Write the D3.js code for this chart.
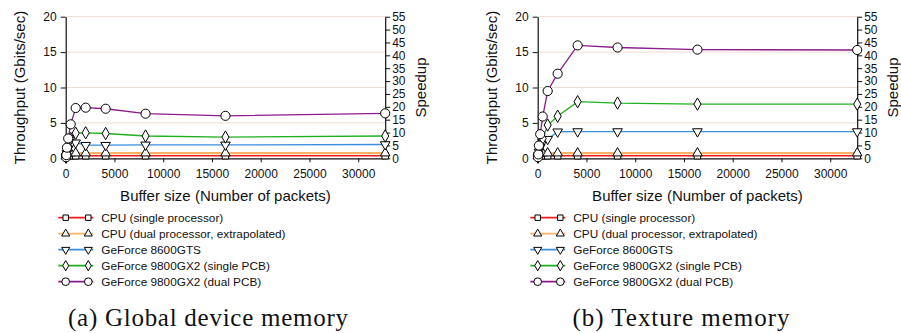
<!DOCTYPE html>
<html>
<head>
<meta charset="utf-8">
<script src="https://cdn.jsdelivr.net/npm/d3@7"></script>
<style>
  body { margin: 0; background: #fff; }
  svg { display: block; }
</style>
</head>
<body>
<svg id="chart" width="901" height="333"></svg>
<script>
// buffer sizes (packets)
const bufferSizes = [32, 64, 128, 256, 512, 1024, 2048, 4096, 8192, 16384, 32768];

const seriesNames = [
    'CPU (single processor)',
    'CPU (dual processor, extrapolated)',
    'GeForce 8600GTS',
    'GeForce 9800GX2 (single PCB)',
    'GeForce 9800GX2 (dual PCB)'
];

// throughput, Gbits/sec -- global device memory
const globalCpuSingle = [0.36, 0.36, 0.36, 0.36, 0.36, 0.36, 0.36, 0.36, 0.36, 0.36, 0.36];
const globalCpuDual   = [0.73, 0.73, 0.73, 0.73, 0.73, 0.73, 0.73, 0.73, 0.73, 0.73, 0.73];
const globalGts       = [0.15, 0.3, 0.7, 1.4, 2.0, 2.2, 1.85, 1.85, 1.9, 1.9, 1.95];
const globalGx2Single = [0.15, 0.35, 0.9, 1.7, 2.8, 3.55, 3.6, 3.5, 3.15, 3.0, 3.15];
const globalGx2Dual   = [0.15, 0.45, 1.5, 2.8, 4.8, 7.1, 7.15, 7.0, 6.3, 6.0, 6.35];

// throughput, Gbits/sec -- texture memory
const textureCpuSingle = [0.36, 0.36, 0.36, 0.36, 0.36, 0.36, 0.36, 0.36, 0.36, 0.36, 0.36];
const textureCpuDual   = [0.73, 0.73, 0.73, 0.73, 0.73, 0.73, 0.73, 0.73, 0.73, 0.73, 0.73];
const textureGts       = [0.15, 0.4, 0.9, 1.6, 2.3, 2.7, 3.75, 3.78, 3.78, 3.78, 3.78];
const textureGx2Single = [0.15, 0.4, 0.9, 1.7, 2.8, 4.7, 5.95, 8.0, 7.8, 7.65, 7.65];
const textureGx2Dual   = [0.15, 0.55, 1.8, 3.4, 5.9, 9.5, 11.95, 15.95, 15.65, 15.35, 15.3];

const xTicks = [0, 5000, 10000, 15000, 20000, 25000, 30000];
const yTicks = [0, 5, 10, 15, 20];
const speedupTicks = [0, 5, 10, 15, 20, 25, 30, 35, 40, 45, 50, 55];

const captions = ['(a) Global device memory', '(b) Texture memory'];

const SANS = "'Liberation Sans', Arial, sans-serif";
const SERIF = "'Liberation Serif', 'Times New Roman', serif";

const seriesStyle = [
    { color: '#ee1c1c', width: 1.3, symbol: d3.symbolSquare, size: 42, rotate: 0 },
    { color: '#f7b266', width: 2.2, symbol: d3.symbolTriangle, size: 40, rotate: 0 },
    { color: '#3a8ede', width: 1.3, symbol: d3.symbolTriangle, size: 40, rotate: 180 },
    { color: '#1fb01f', width: 1.3, symbol: d3.symbolDiamond, size: 44, rotate: 0 },
    { color: '#8c1c8c', width: 1.3, symbol: d3.symbolCircle, size: 66, rotate: 0 }
];

const panels = [
    { left: 65.7, series: [globalCpuSingle, globalCpuDual, globalGts, globalGx2Single, globalGx2Dual] },
    { left: 537.7, series: [textureCpuSingle, textureCpuDual, textureGts, textureGx2Single, textureGx2Dual] }
];

const PLOT_W = 319.5;
const PLOT_TOP = 16.7;
const PLOT_BOTTOM = 158.3;

let svg = d3.select('#chart');

function drawPanel(panel, idx) {
    let g = svg.append('g').attr('transform', `translate(${panel.left},0)`);

    let x = d3.scaleLinear().domain([0, 32768]).range([0, PLOT_W]);
    let y = d3.scaleLinear().domain([0, 20]).range([PLOT_BOTTOM, PLOT_TOP]);
    let ySpeed = d3.scaleLinear().domain([0, 55]).range([PLOT_BOTTOM, PLOT_TOP]);

    // grid
    g.append('g').selectAll('line').data(yTicks.slice(1)).join('line')
        .attr('x1', 0).attr('x2', PLOT_W)
        .attr('y1', d => y(d)).attr('y2', d => y(d))
        .attr('stroke', '#efdcd2').attr('stroke-width', 1);

    // axes
    let xAxis = g.append('g').attr('transform', `translate(0,${PLOT_BOTTOM})`)
        .call(d3.axisBottom(x).tickValues(xTicks).tickFormat(d3.format('d'))
            .tickSize(4).tickSizeOuter(0).tickPadding(7));
    let yAxis = g.append('g')
        .call(d3.axisLeft(y).tickValues(yTicks).tickSize(5).tickSizeOuter(0).tickPadding(4));
    let rAxis = g.append('g').attr('transform', `translate(${PLOT_W},0)`)
        .call(d3.axisRight(ySpeed).tickValues(speedupTicks).tickSize(5).tickSizeOuter(0).tickPadding(2));

    [xAxis, yAxis, rAxis].forEach(a => {
        a.selectAll('text').attr('font-family', SANS).attr('font-size', 12).attr('fill', '#111');
        a.selectAll('line').attr('stroke', '#111');
        a.select('.domain').attr('stroke', '#111').attr('stroke-width', 1.2);
    });

    // series
    panel.series.forEach((values, i) => {
        let st = seriesStyle[i];
        let pts = bufferSizes.map((b, j) => ({ b, v: values[j] }));
        g.append('path').datum(pts)
            .attr('fill', 'none')
            .attr('stroke', st.color)
            .attr('stroke-width', st.width)
            .attr('d', d3.line().x(d => x(d.b)).y(d => y(d.v)));
        g.append('g').selectAll('path').data(pts).join('path')
            .attr('d', d3.symbol().type(st.symbol).size(st.size))
            .attr('transform', d => `translate(${x(d.b)},${y(d.v)}) rotate(${st.rotate})`)
            .attr('fill', '#fff').attr('stroke', '#000').attr('stroke-width', 1);
    });

    // axis titles
    g.append('text')
        .attr('transform', `translate(${-46},${(PLOT_TOP + PLOT_BOTTOM) / 2}) rotate(-90)`)
        .attr('text-anchor', 'middle').attr('dy', '0.35em')
        .attr('font-family', SANS).attr('font-size', 15).attr('fill', '#111')
        .text('Throughput (Gbits/sec)');
    g.append('text')
        .attr('transform', `translate(${PLOT_W + 36},${(PLOT_TOP + PLOT_BOTTOM) / 2}) rotate(-90)`)
        .attr('text-anchor', 'middle').attr('dy', '0.35em')
        .attr('font-family', SANS).attr('font-size', 15).attr('fill', '#111')
        .text('Speedup');
    g.append('text')
        .attr('x', PLOT_W / 2).attr('y', 201)
        .attr('text-anchor', 'middle')
        .attr('font-family', SANS).attr('font-size', 15).attr('fill', '#111')
        .text('Buffer size (Number of packets)');

    // legend
    let legend = g.append('g').attr('transform', 'translate(-7.4,0)');
    seriesNames.forEach((name, i) => {
        let st = seriesStyle[i];
        let ly = 217.7 + i * 16;
        legend.append('line')
            .attr('x1', 0).attr('x2', 35).attr('y1', ly).attr('y2', ly)
            .attr('stroke', st.color).attr('stroke-width', 1.7);
        [7.4, 30].forEach(mx => {
            legend.append('path')
                .attr('d', d3.symbol().type(st.symbol).size(st.size * 0.7))
                .attr('transform', `translate(${mx},${ly}) rotate(${st.rotate})`)
                .attr('fill', '#fff').attr('stroke', '#000').attr('stroke-width', 1);
        });
        legend.append('text')
            .attr('x', 43).attr('y', ly).attr('dy', '0.35em')
            .attr('font-family', SANS).attr('font-size', 11.8).attr('fill', '#111')
            .text(name);
    });

    // caption
    g.append('text')
        .attr('x', idx == 0 ? 142.3 : 143.3).attr('y', 326)
        .attr('text-anchor', 'middle')
        .attr('font-family', SERIF).attr('font-size', 25).attr('fill', '#111')
        .attr('textLength', idx == 0 ? 280 : 217).attr('lengthAdjust', 'spacing')
        .text(captions[idx]);
}

panels.forEach(drawPanel);
</script>
</body>
</html>
